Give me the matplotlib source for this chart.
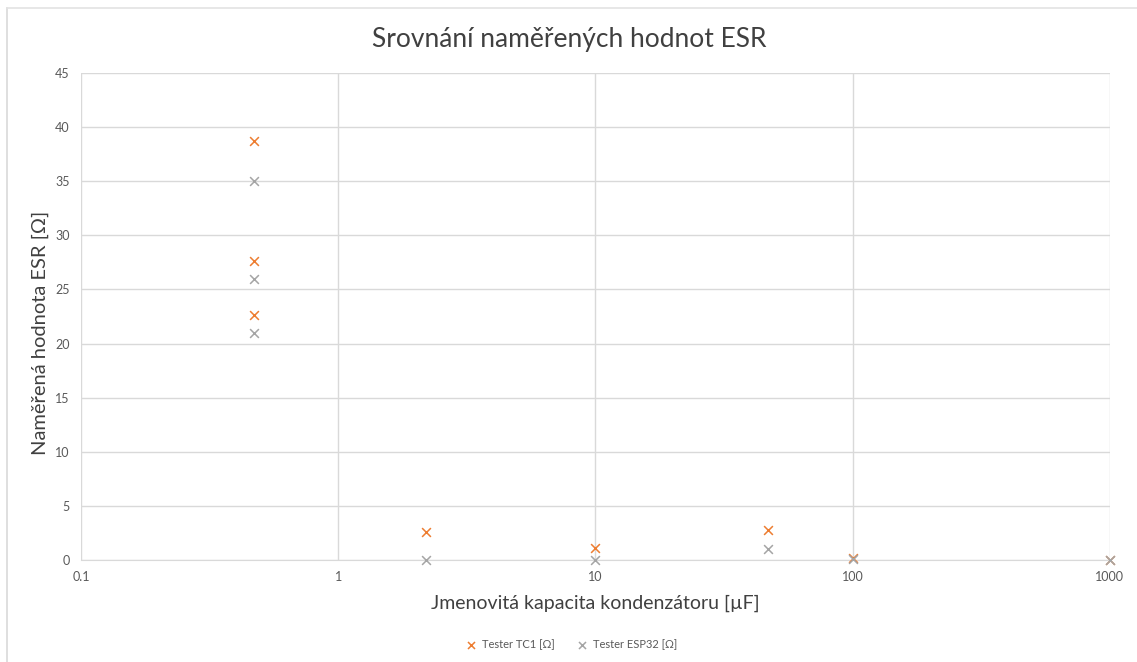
import matplotlib.pyplot as plt
from matplotlib.lines import Line2D

# nominal capacitance [uF] and measured ESR [ohm]
kapacita = [0.47, 0.47, 0.47, 2.2, 10, 47, 100, 1000]
esr_tc1 = [38.7, 27.6, 22.6, 2.6, 1.1, 2.8, 0.2, 0.05]
esr_esp32 = [35.0, 26.0, 21.0, 0.0, 0.0, 1.0, 0.1, 0.05]

x_ticks = [0.1, 1, 10, 100, 1000]
x_labels = ["0.1", "1", "10", "100", "1000"]
y_ticks = list(range(0, 50, 5))

plt.rcParams['font.family'] = ['Lato', 'DejaVu Sans']

fig = plt.figure(figsize=(11.37, 6.62), dpi=100)

# chart frame: left and top edges only
fig.add_artist(Line2D([0.0062, 0.0062], [0.0, 0.988], transform=fig.transFigure,
                      color='#d9d9d9', linewidth=1.2))
fig.add_artist(Line2D([0.0062, 1.0], [0.988, 0.988], transform=fig.transFigure,
                      color='#e3e3e3', linewidth=1.2))

ax = fig.add_axes([0.0712, 0.154, 0.905, 0.736])

ax.scatter(kapacita, esr_tc1, marker='x', s=40, linewidths=1.1,
           color='#ED7D31', label='Tester TC1 [Ω]', zorder=3, clip_on=False)
ax.scatter(kapacita, esr_esp32, marker='x', s=40, linewidths=1.1,
           color='#A5A5A5', label='Tester ESP32 [Ω]', zorder=3, clip_on=False)

ax.set_xscale('log')
ax.set_xlim(0.1, 1000)
ax.set_ylim(0, 45)
ax.set_xticks(x_ticks)
ax.set_xticklabels(x_labels)
ax.set_yticks(y_ticks)
ax.minorticks_off()

ax.grid(True, color='#d9d9d9', linewidth=1)
ax.set_axisbelow(True)
for side in ['top', 'right', 'left']:
    ax.spines[side].set_visible(False)
ax.spines['bottom'].set_color('#d9d9d9')
ax.tick_params(length=0, colors='#595959', labelsize=9, pad=8)

fig.text(0.501, 1 - 40 / 662, 'Srovnání naměřených hodnot ESR', fontsize=19,
         color='#404040', ha='center', va='center')
ax.set_xlabel('Jmenovitá kapacita kondenzátoru [µF]', fontsize=14, color='#404040', labelpad=8)
fig.text(40 / 1137, 1 - 333 / 662, 'Naměřená hodnota ESR [Ω]', fontsize=14.5,
         color='#404040', rotation=90, ha='center', va='center')

fig.legend(loc='center', bbox_to_anchor=(0.5, 0.026), ncol=2, frameon=False,
           fontsize=8, labelcolor='#595959', handletextpad=0.0, columnspacing=1.5,
           markerscale=0.8)

fig.savefig('out.png', dpi=100)
